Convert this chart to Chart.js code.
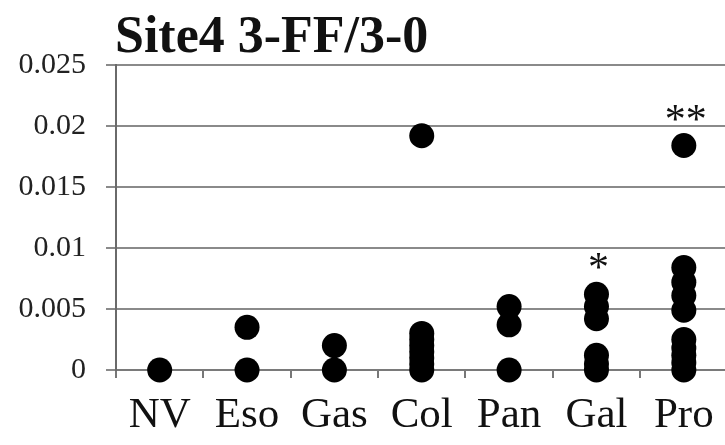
<!DOCTYPE html>
<html>
<head>
<meta charset="utf-8">
<script src="https://cdn.jsdelivr.net/npm/chart.js@4/dist/chart.umd.min.js"></script>
<style>
html, body { margin: 0; padding: 0; overflow: hidden; background: #fff; width: 725px; height: 445px; }
#wrap { position: absolute; left: 0; top: 0; width: 740px; height: 445px; }
</style>
</head>
<body>
<div id="wrap"><canvas id="c" width="740" height="445"></canvas></div>
<script>
const chartTitle = 'Site4 3-FF/3-0';
const categories = ['NV', 'Eso', 'Gas', 'Col', 'Pan', 'Gal', 'Pro'];
const valuesNV  = [0];
const valuesEso = [0, 0.0035];
const valuesGas = [0, 0.002];
const valuesCol = [0, 0.0005, 0.001, 0.0015, 0.002, 0.0025, 0.003, 0.0192];
const valuesPan = [0, 0.0037, 0.0052];
const valuesGal = [0, 0.0005, 0.0012, 0.0042, 0.0052, 0.0062];
const valuesPro = [0, 0.0006, 0.0012, 0.0018, 0.0025, 0.0049, 0.0061, 0.0072, 0.0084, 0.0184];
const significance = ['', '', '', '', '', '*', '**'];
const yTickValues = [0, 0.005, 0.01, 0.015, 0.02, 0.025];
const yTickLabels = ['0', '0.005', '0.01', '0.015', '0.02', '0.025'];

const seriesByCategory = [valuesNV, valuesEso, valuesGas, valuesCol, valuesPan, valuesGal, valuesPro];
const points = [];
seriesByCategory.forEach((vals, i) => vals.forEach(v => points.push({ x: categories[i], y: v })));

const SERIF = '"Liberation Serif", "DejaVu Serif", serif';

const overlay = {
  id: 'overlay',
  afterDraw(chart) {
    const ctx = chart.ctx;
    const xs = chart.scales.x, ys = chart.scales.y;
    ctx.save();
    ctx.fillStyle = '#111';
    ctx.font = 'bold 52px ' + SERIF;
    ctx.textAlign = 'left';
    ctx.textBaseline = 'alphabetic';
    ctx.fillText(chartTitle, chart.chartArea.left - 1, 52);
    ctx.font = '42px ' + SERIF;
    ctx.textAlign = 'center';
    ctx.textBaseline = 'middle';
    significance.forEach((s, i) => {
      if (!s) return;
      const maxV = Math.max(...seriesByCategory[i]);
      const px = xs.getPixelForValue(i);
      const py = ys.getPixelForValue(maxV) - 24;
      ctx.fillText(s, px + 2, py);
    });
    ctx.restore();
  }
};

new Chart(document.getElementById('c'), {
  type: 'scatter',
  data: {
    labels: categories,
    datasets: [{
      data: points,
      backgroundColor: '#000',
      borderColor: '#000',
      pointRadius: 12.5,
      pointHoverRadius: 12.5,
      borderWidth: 0,
      clip: false
    }]
  },
  options: {
    responsive: false,
    animation: false,
    devicePixelRatio: 1,
    layout: { padding: { left: 0, right: 8, top: 65, bottom: 0 } },
    plugins: { legend: { display: false }, title: { display: false }, tooltip: { enabled: false } },
    scales: {
      x: {
        type: 'category',
        labels: categories,
        offset: true,
        grid: { offset: true, drawOnChartArea: false, drawTicks: true, tickLength: 8, color: '#777', lineWidth: 2 },
        border: { display: true, color: '#7a7a7a', width: 2 },
        ticks: { color: '#111', font: { family: SERIF, size: 43 }, padding: 12, maxRotation: 0, autoSkip: false },
        afterFit(s) { s.height = 75; }
      },
      y: {
        type: 'linear',
        min: 0,
        max: 0.025,
        afterBuildTicks(s) { s.ticks = yTickValues.map(v => ({ value: v })); },
        grid: { color: '#8a8a8a', lineWidth: 2, tickLength: 10, drawTicks: true },
        border: { display: true, color: '#6a6a6a', width: 2 },
        ticks: {
          color: '#222',
          font: { family: SERIF, size: 30 },
          padding: 20,
          callback: (v, i) => yTickLabels[i]
        },
        afterFit(s) { s.width = 116; }
      }
    }
  },
  plugins: [overlay]
});
</script>
</body>
</html>
